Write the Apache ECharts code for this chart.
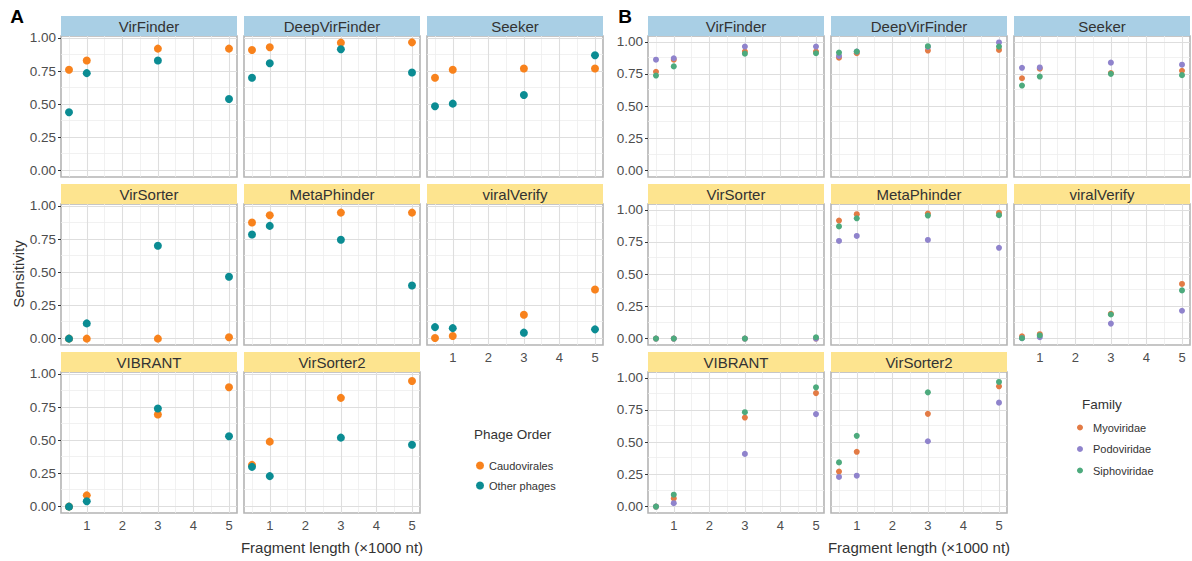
<!DOCTYPE html>
<html>
<head>
<meta charset="utf-8">
<script src="https://cdn.jsdelivr.net/npm/echarts@6/dist/echarts.min.js"></script>
<style>
html,body{margin:0;padding:0;background:#fff;}
#chart{width:1192px;height:561px;}
</style>
</head>
<body>
<div id="chart"></div>
<script>
// ---------------- DATA ----------------
const fragLengths = [0.5, 1, 3, 5];
const tools = ['VirFinder','DeepVirFinder','Seeker','VirSorter','MetaPhinder','viralVerify','VIBRANT','VirSorter2'];

// Panel A: Phage Order (rows follow `tools`, columns follow `fragLengths`)
const caudovirales = [
  [0.76, 0.83, 0.92, 0.92],
  [0.91, 0.93, 0.965, 0.967],
  [0.70, 0.76, 0.77, 0.77],
  [0.0, 0.0, 0.0, 0.01],
  [0.875, 0.93, 0.95, 0.95],
  [0.005, 0.02, 0.18, 0.37],
  [0.0, 0.085, 0.695, 0.90],
  [0.315, 0.49, 0.82, 0.947]
];
const otherPhages = [
  [0.44, 0.735, 0.83, 0.54],
  [0.70, 0.81, 0.915, 0.74],
  [0.485, 0.505, 0.57, 0.87],
  [0.0, 0.115, 0.70, 0.467],
  [0.785, 0.85, 0.745, 0.40],
  [0.087, 0.079, 0.045, 0.07],
  [0.0, 0.04, 0.74, 0.53],
  [0.30, 0.23, 0.52, 0.466]
];

// Panel B: Family
const myoviridae = [
  [0.767, 0.861, 0.924, 0.924],
  [0.877, 0.911, 0.932, 0.937],
  [0.717, 0.791, 0.757, 0.775],
  [0.0, 0.0, 0.0, 0.0],
  [0.916, 0.966, 0.971, 0.976],
  [0.018, 0.034, 0.192, 0.424],
  [0.0, 0.063, 0.691, 0.881],
  [0.272, 0.425, 0.72, 0.934]
];
const podoviridae = [
  [0.861, 0.872, 0.963, 0.963],
  [0.89, 0.924, 0.96, 0.995],
  [0.798, 0.801, 0.838, 0.822],
  [0.0, 0.0, 0.0, 0.0],
  [0.758, 0.797, 0.766, 0.705],
  [0.003, 0.011, 0.116, 0.216],
  [0.0, 0.026, 0.409, 0.718],
  [0.23, 0.24, 0.507, 0.807]
];
const siphoviridae = [
  [0.738, 0.809, 0.908, 0.911],
  [0.916, 0.924, 0.966, 0.963],
  [0.66, 0.73, 0.751, 0.741],
  [0.0, 0.0, 0.0, 0.01],
  [0.871, 0.934, 0.955, 0.958],
  [0.003, 0.024, 0.187, 0.374],
  [0.0, 0.092, 0.733, 0.926],
  [0.343, 0.549, 0.887, 0.968]
];

// Tick values
const xMajorTicks = [1, 2, 3, 4, 5];
const xMinorTicks = [0.5, 1.5, 2.5, 3.5, 4.5];
const yMajorTicks = [0, 0.25, 0.5, 0.75, 1];
const yMinorTicks = [0.125, 0.375, 0.625, 0.875];

// ---------------- LAYOUT / STYLE ----------------
const FONT = '"Liberation Sans", Arial, Helvetica, sans-serif';
const PANEL_W = 176, STRIP_H = 20, PANEL_H = 141;
const stripTops = [16, 184, 352];
const colLeftsA = [61, 244, 427];
const colLeftsB = [648, 831, 1014];
const xRange = [0.275, 5.225];
const yRangeA = [-0.048, 1.015];
const yRangeB = [-0.05, 1.045];
const stripColors = ['#a9cfe5', '#fde48f', '#fde48f'];

const grids = [], xAxes = [], yAxes = [], series = [], graphics = [];

function buildFacets(colLefts, yRange, groups, symbolSize) {
  tools.forEach((tool, i) => {
    const row = Math.floor(i / 3), col = i % 3;
    const gi = grids.length;
    const left = colLefts[col], top = stripTops[row] + STRIP_H;
    grids.push({left: left, top: top, width: PANEL_W, height: PANEL_H,
      show: true, backgroundColor: '#ffffff', borderColor: '#b4b4b4', borderWidth: 1.6, containLabel: false});
    const isBottom = i >= 5;
    const isLeft = col === 0;
    xAxes.push({type: 'value', gridIndex: gi, min: xRange[0], max: xRange[1],
      splitLine: {show: false}, axisLine: {show: false},
      axisTick: {show: isBottom, customValues: xMajorTicks, length: 3, lineStyle: {color: '#333', width: 1}},
      axisLabel: {show: isBottom, customValues: xMajorTicks, margin: 6, color: '#4d4d4d', fontSize: 13, fontFamily: FONT}
    });
    yAxes.push({type: 'value', gridIndex: gi, min: yRange[0], max: yRange[1],
      splitLine: {show: false}, axisLine: {show: false},
      axisTick: {show: isLeft, customValues: yMajorTicks, length: 3, lineStyle: {color: '#333', width: 1}},
      axisLabel: {show: isLeft, customValues: yMajorTicks, margin: 5, color: '#4d4d4d', fontSize: 13.5, fontFamily: FONT,
        formatter: v => v.toFixed(2)}
    });
    const lines = [];
    xMinorTicks.forEach(v => lines.push({xAxis: v, lineStyle: {color: '#eeeeee', width: 0.8, type: 'solid'}}));
    yMinorTicks.forEach(v => lines.push({yAxis: v, lineStyle: {color: '#eeeeee', width: 0.8, type: 'solid'}}));
    xMajorTicks.forEach(v => lines.push({xAxis: v, lineStyle: {color: '#dedede', width: 1.1, type: 'solid'}}));
    yMajorTicks.forEach(v => lines.push({yAxis: v, lineStyle: {color: '#dedede', width: 1.1, type: 'solid'}}));
    series.push({type: 'scatter', xAxisIndex: gi, yAxisIndex: gi, data: [], silent: true, z: 1,
      markLine: {silent: true, z: 1, symbol: ['none', 'none'], label: {show: false}, animation: false, data: lines}});
    groups.forEach(g => {
      series.push({type: 'scatter', name: g.name, xAxisIndex: gi, yAxisIndex: gi, z: 6,
        symbolSize: symbolSize, itemStyle: {color: g.color, opacity: 1},
        data: fragLengths.map((x, j) => [x, g.values[i][j]])});
    });
    graphics.push({type: 'rect', shape: {x: left, y: stripTops[row], width: PANEL_W, height: STRIP_H},
      style: {fill: stripColors[row]}, silent: true});
    graphics.push({type: 'text', x: left + PANEL_W / 2, y: stripTops[row] + STRIP_H / 2 + 0.5,
      style: {text: tool, fill: '#333333', font: '15px ' + FONT, align: 'center', verticalAlign: 'middle'}, silent: true});
  });
}

const groupsA = [
  {name: 'Caudovirales', color: '#f8821c', values: caudovirales},
  {name: 'Other phages', color: '#0b8c93', values: otherPhages}
];
const groupsB = [
  {name: 'Myoviridae', color: '#e37b45', values: myoviridae},
  {name: 'Podoviridae', color: '#8f83cc', values: podoviridae},
  {name: 'Siphoviridae', color: '#4daa7d', values: siphoviridae}
];

buildFacets(colLeftsA, yRangeA, groupsA, 8);
buildFacets(colLeftsB, yRangeB, groupsB, 6);

// Panel labels & axis titles
graphics.push({type: 'text', x: 17, y: 16, style: {text: 'A', fill: '#000', font: 'bold 19px ' + FONT, align: 'center', verticalAlign: 'middle'}});
graphics.push({type: 'text', x: 625, y: 16, style: {text: 'B', fill: '#000', font: 'bold 19px ' + FONT, align: 'center', verticalAlign: 'middle'}});
graphics.push({type: 'text', x: 18, y: 274, rotation: Math.PI / 2,
  style: {text: 'Sensitivity', fill: '#333', font: '15px ' + FONT, align: 'center', verticalAlign: 'middle'}});
graphics.push({type: 'text', x: 332, y: 547,
  style: {text: 'Fragment length (×1000 nt)', fill: '#333', font: '15px ' + FONT, align: 'center', verticalAlign: 'middle'}});
graphics.push({type: 'text', x: 919, y: 547,
  style: {text: 'Fragment length (×1000 nt)', fill: '#333', font: '15px ' + FONT, align: 'center', verticalAlign: 'middle'}});
graphics.push({type: 'text', x: 474, y: 434,
  style: {text: 'Phage Order', fill: '#333', font: '13.5px ' + FONT, align: 'left', verticalAlign: 'middle'}});
graphics.push({type: 'text', x: 1082, y: 404,
  style: {text: 'Family', fill: '#333', font: '13.5px ' + FONT, align: 'left', verticalAlign: 'middle'}});

const chart = echarts.init(document.getElementById('chart'), null, {renderer: 'svg'});
chart.setOption({
  animation: false,
  backgroundColor: '#ffffff',
  textStyle: {fontFamily: FONT},
  grid: grids,
  xAxis: xAxes,
  yAxis: yAxes,
  series: series,
  legend: [
    {data: groupsA.map(g => g.name), orient: 'vertical', left: 471, top: 455, icon: 'circle',
      itemWidth: 8, itemHeight: 8, itemGap: 9, selectedMode: false,
      textStyle: {fontSize: 11, color: '#333', fontFamily: FONT}},
    {data: groupsB.map(g => g.name), orient: 'vertical', left: 1072, top: 417, icon: 'circle',
      itemWidth: 6, itemHeight: 6, itemGap: 10.5, selectedMode: false,
      textStyle: {fontSize: 11, color: '#333', fontFamily: FONT, padding: [0, 0, 0, 5]}}
  ],
  graphic: graphics
});
</script>
</body>
</html>
